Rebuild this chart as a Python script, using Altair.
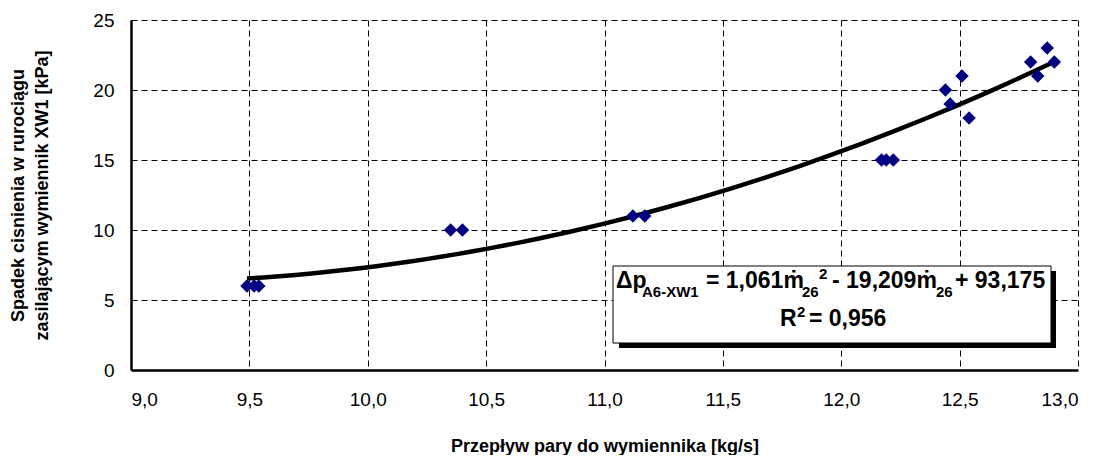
import altair as alt
import pandas as pd

# ---- data ----
flow = [9.49, 9.52, 9.54, 10.35, 10.40, 11.12, 11.17, 12.17, 12.19, 12.22,
        12.44, 12.46, 12.51, 12.54, 12.80, 12.83, 12.87, 12.90]
dp = [6, 6, 6, 10, 10, 11, 11, 15, 15, 15, 20, 19, 21, 18, 22, 21, 23, 22]

x_ticks = [9.0, 9.5, 10.0, 10.5, 11.0, 11.5, 12.0, 12.5, 13.0]
y_ticks = [0, 5, 10, 15, 20, 25]

x_title = "Przepływ pary do wymiennika [kg/s]"
y_title = ["Spadek cisnienia w rurociągu", "zasilającym wymiennik XW1 [kPa]"]

# annotation pieces: text, x(px in plot), y(px baseline in plot), size
eq_text = ["Δp", "A6-XW1", "= 1,061ṁ", "26", "2", "- 19,209ṁ", "26", "+ 93,175",
           "R", "2", "= 0,956"]
eq_x = [485, 511, 575, 671, 688, 701, 805, 824, 649, 666, 678]
eq_y = [268, 277, 268, 277, 259, 268, 277, 268, 306, 297, 306]
eq_size = [23, 15, 23, 15, 15, 23, 15, 23, 23, 15, 23]

FONT = "Liberation Sans"
W, H = 947, 350

df = pd.DataFrame({"flow": flow, "dp": dp})

xs = alt.Scale(domain=[9, 13], nice=False)
ys = alt.Scale(domain=[0, 25], nice=False)

base = alt.Chart(df)

points = base.mark_point(shape="diamond", filled=True, size=180, color="#000080", opacity=1).encode(
    x=alt.X("flow:Q", scale=xs,
            axis=alt.Axis(values=x_ticks, title=x_title,
                          labelExpr="replace(format(datum.value, '.1f'), '.', ',')")),
    y=alt.Y("dp:Q", scale=ys,
            axis=alt.Axis(values=y_ticks, title=y_title)),
)

trend = base.transform_regression("flow", "dp", method="poly", order=2).mark_line(
    color="black", strokeWidth=4.5
).encode(x=alt.X("flow:Q", scale=xs), y=alt.Y("dp:Q", scale=ys))

shadow = alt.Chart(pd.DataFrame({"a": [0]})).mark_rect(color="black").encode(
    x=alt.value(488), x2=alt.value(925), y=alt.value(251), y2=alt.value(328))
box = alt.Chart(pd.DataFrame({"a": [0]})).mark_rect(
    fill="white", stroke="black", strokeWidth=1).encode(
    x=alt.value(482), x2=alt.value(920), y=alt.value(246), y2=alt.value(323))

layers = [trend, points, shadow, box]
for t, px, py, s in zip(eq_text, eq_x, eq_y, eq_size):
    layers.append(
        alt.Chart(pd.DataFrame({"t": [t]})).mark_text(
            align="left", baseline="alphabetic", font=FONT, fontWeight="bold",
            fontSize=s, color="black").encode(
            x=alt.value(px), y=alt.value(py), text="t:N"))

chart = alt.layer(*layers).properties(
    width=W, height=H,
    autosize=alt.AutoSizeParams(type="none"),
    padding={"left": 123, "top": 12, "right": 16, "bottom": 85},
).configure_view(stroke=None).configure_axis(
    grid=True, gridColor="black", gridDash=[6, 4], gridWidth=1, gridOpacity=1,
    domainColor="black", domainWidth=2.5, ticks=False,
    labelFont=FONT, labelFontSize=19, labelColor="black",
    titleFont=FONT, titleFontSize=18, titleFontWeight="bold", titleColor="black",
).configure_axisX(labelPadding=20, titlePadding=28).configure_axisY(
    labelPadding=17, titlePadding=41, titleLineHeight=24)

chart.save("out.html", embed_options={"renderer": "svg", "actions": False})
